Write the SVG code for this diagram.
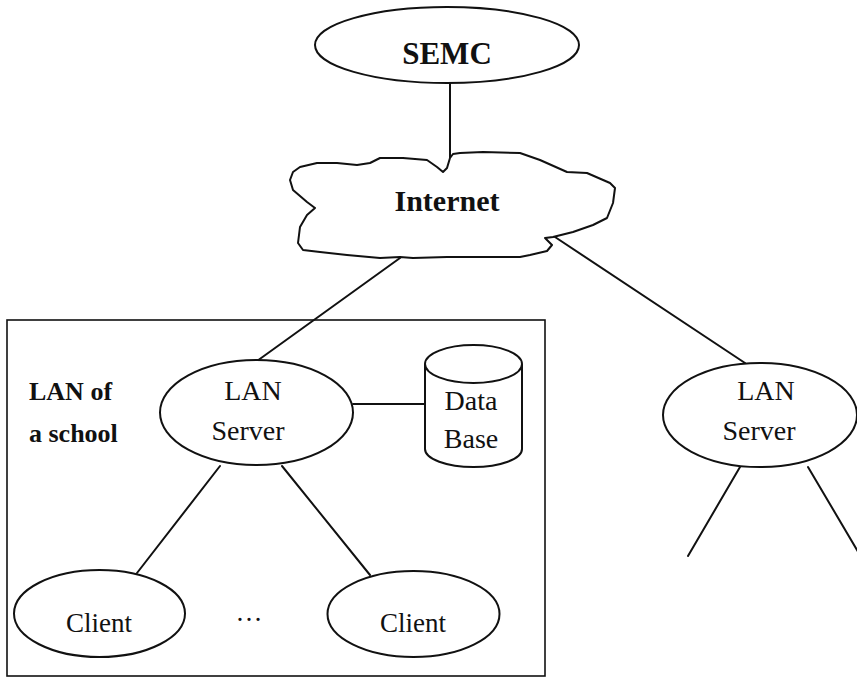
<svg xmlns="http://www.w3.org/2000/svg" width="857" height="678" viewBox="0 0 857 678">
<style>
.s{fill:none;stroke:#111;stroke-width:2;stroke-linejoin:round;stroke-linecap:round}
.n{fill:#fff;stroke:#111;stroke-width:2}
.t{font-family:"Liberation Serif","Times New Roman",serif;fill:#111;text-anchor:middle}
.b{font-weight:bold}
</style>
<rect width="857" height="678" fill="#fff"/>
<g id="connectors" class="s">
<line x1="450" y1="83" x2="450" y2="166"/>
<line x1="400" y1="258" x2="257" y2="361"/>
<line x1="555" y1="237" x2="745" y2="363"/>
<line x1="353" y1="404" x2="427" y2="404"/>
<line x1="220" y1="466" x2="137" y2="573"/>
<line x1="282" y1="466" x2="370" y2="575"/>
<line x1="740" y1="467" x2="688" y2="556"/>
<line x1="808" y1="467" x2="860" y2="555"/>
</g>
<g id="lan-box">
<rect x="7" y="320" width="538" height="356" fill="none" stroke="#111" stroke-width="1.6"/>
<text class="t b" x="29" y="400" font-size="26" text-anchor="start" style="text-anchor:start">LAN of</text>
<text class="t b" x="29" y="442" font-size="26" style="text-anchor:start">a school</text>
</g>
<g id="semc">
<ellipse class="n" cx="447" cy="45" rx="132" ry="38"/>
<text class="t b" x="447" y="64" font-size="31">SEMC</text>
</g>
<g id="internet">
<path class="s" fill="#fff" style="fill:#fff" d="M290,180 L293,172 L300,167 L317,163 L337,163 L357,165 L370,163 L380,158 L403,158 L427,160 L437,167 L443,172 L447,168 L450,158 L453,154 L460,153 L483,152 L520,153 L540,160 L567,172 L587,173 L610,183 L615,188 L613,203 L607,218 L593,225 L573,232 L553,237 L545,238 L552,245 L547,251 L530,255 L520,257 L480,257 L447,257 L413,258 L400,257 L380,258 L347,255 L320,252 L303,250 L298,243 L300,227 L307,215 L315,208 L307,202 L293,190 Z"/>
<text class="t b" x="447" y="211" font-size="30">Internet</text>
</g>
<g id="lan-server-1">
<ellipse class="n" cx="256.5" cy="412.5" rx="96.5" ry="52.5"/>
<text class="t" x="253" y="400" font-size="28">LAN</text>
<text class="t" x="248" y="440" font-size="28">Server</text>
</g>
<g id="database">
<path class="n" d="M425,364 L425,449 A48.5,18 0 0 0 522,449 L522,364"/>
<ellipse class="n" cx="473.5" cy="364" rx="48.5" ry="19"/>
<text class="t" x="471" y="410" font-size="28">Data</text>
<text class="t" x="471" y="448" font-size="28">Base</text>
</g>
<g id="client-1">
<ellipse class="n" cx="99.5" cy="613.5" rx="85.5" ry="43.5"/>
<text class="t" x="99" y="632" font-size="27">Client</text>
</g>
<g id="ellipsis">
<text class="t" x="249" y="621" font-size="27">…</text>
</g>
<g id="client-2">
<ellipse class="n" cx="413.5" cy="614" rx="86" ry="43"/>
<text class="t" x="413" y="632" font-size="27">Client</text>
</g>
<g id="lan-server-2">
<ellipse class="n" cx="760" cy="415" rx="97" ry="52"/>
<text class="t" x="766" y="400" font-size="28">LAN</text>
<text class="t" x="759" y="440" font-size="28">Server</text>
</g>
</svg>
